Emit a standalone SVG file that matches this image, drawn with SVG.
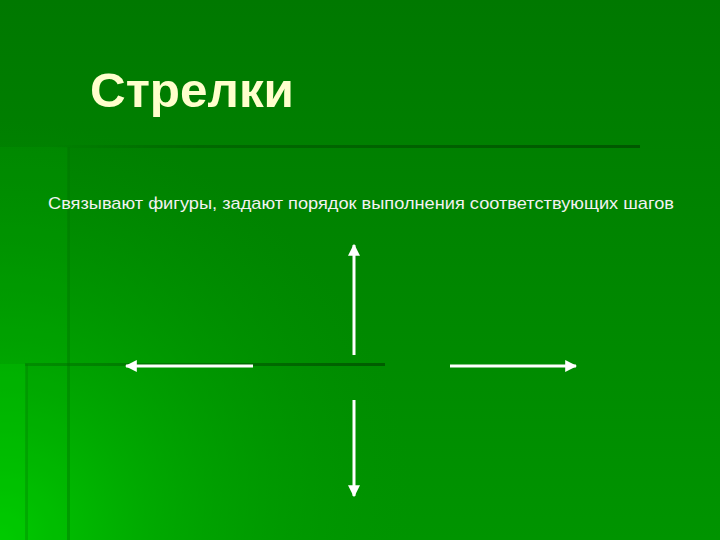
<svg xmlns="http://www.w3.org/2000/svg" width="720" height="540" viewBox="0 0 720 540">
<defs>
<linearGradient id="bg" x1="0" y1="0" x2="0" y2="1">
<stop offset="0" stop-color="#007800"/>
<stop offset="1" stop-color="#009400"/>
</linearGradient>
<radialGradient id="glow" gradientUnits="userSpaceOnUse" cx="0" cy="540" r="420">
<stop offset="0" stop-color="#00cc00" stop-opacity="1"/>
<stop offset="0.35" stop-color="#00b400" stop-opacity="0.7"/>
<stop offset="1" stop-color="#009400" stop-opacity="0"/>
</radialGradient>
<linearGradient id="hline" gradientUnits="userSpaceOnUse" x1="50" y1="0" x2="640" y2="0">
<stop offset="0" stop-color="#005f00" stop-opacity="0"/>
<stop offset="0.25" stop-color="#005f00" stop-opacity="0.7"/>
<stop offset="1" stop-color="#005800"/>
</linearGradient>
<linearGradient id="hline2" gradientUnits="userSpaceOnUse" x1="25" y1="0" x2="385" y2="0">
<stop offset="0" stop-color="#006a00" stop-opacity="0.4"/>
<stop offset="1" stop-color="#005c00"/>
</linearGradient>
<marker id="ah" viewBox="0 0 10 10" refX="9" refY="5" markerWidth="4" markerHeight="4" orient="auto" markerUnits="strokeWidth">
<path d="M0,0 L10,5 L0,10 z" fill="#ffffff"/>
</marker>
<style>
.arr{stroke:#ffffff;stroke-width:3;fill:none;marker-end:url(#ah)}
.title{font-family:"Liberation Sans",Arial,sans-serif;font-weight:bold;font-size:48px;fill:#ffffcc}
.sub{font-family:"Liberation Sans",Arial,sans-serif;font-size:17px;fill:#f2f2f2}
</style>
</defs>
<rect x="0" y="0" width="720" height="540" fill="url(#bg)"/>
<rect x="0" y="0" width="720" height="540" fill="url(#glow)"/>
<rect x="0" y="147" width="68" height="393" fill="#00c000" opacity="0.12"/>
<rect x="0" y="364" width="26" height="176" fill="#00d000" opacity="0.25"/>
<g id="decor">
<line x1="50" y1="146.5" x2="640" y2="146.5" stroke="url(#hline)" stroke-width="3"/>
<line x1="68.5" y1="147" x2="68.5" y2="540" stroke="#007800" stroke-width="3" opacity="0.45"/>
<line x1="25" y1="364.5" x2="385" y2="364.5" stroke="url(#hline2)" stroke-width="3"/>
<line x1="26.5" y1="364" x2="26.5" y2="540" stroke="#007800" stroke-width="3" opacity="0.3"/>
</g>
<g id="title"><text class="title" x="90" y="107" textLength="204" lengthAdjust="spacingAndGlyphs">Стрелки</text></g>
<g id="subtitle"><text class="sub" x="48" y="209" textLength="626" lengthAdjust="spacingAndGlyphs">Связывают фигуры, задают порядок выполнения соответствующих шагов</text></g>
<g id="connectors">
<line class="arr" x1="354" y1="355" x2="354" y2="245"/>
<line class="arr" x1="354" y1="400" x2="354" y2="496"/>
<line class="arr" x1="253" y1="366" x2="126" y2="366"/>
<line class="arr" x1="450" y1="366" x2="576" y2="366"/>
</g>
</svg>
